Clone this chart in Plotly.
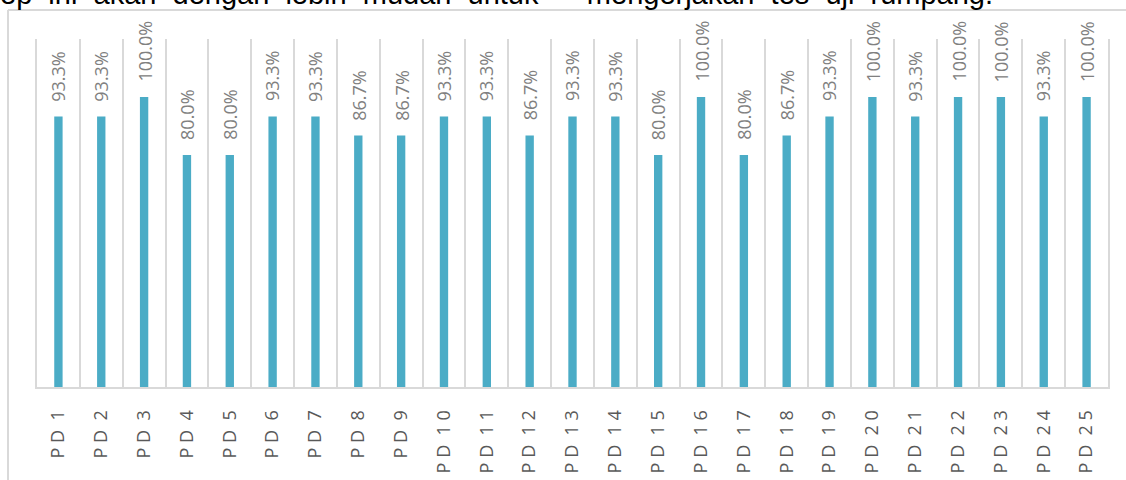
import plotly.graph_objects as go

categories = ["PD 1", "PD 2", "PD 3", "PD 4", "PD 5", "PD 6", "PD 7", "PD 8", "PD 9", "PD 10",
              "PD 11", "PD 12", "PD 13", "PD 14", "PD 15", "PD 16", "PD 17", "PD 18", "PD 19", "PD 20",
              "PD 21", "PD 22", "PD 23", "PD 24", "PD 25"]
scores = [93.3, 93.3, 100.0, 80.0, 80.0, 93.3, 93.3, 86.7, 86.7, 93.3,
          93.3, 86.7, 93.3, 93.3, 80.0, 100.0, 80.0, 86.7, 93.3, 100.0,
          93.3, 100.0, 100.0, 93.3, 100.0]
heading = "ep ini akan dengan lebih mudah untuk   mengerjakan tes uji rumpang."

NB = "\u00a0"
W, H = 1126, 480
L, R, T, B = 37, 18, 39, 93


def spaced(label):
    # Excel-style letter spacing: "PD 12" -> "P D  1 2"
    head, num = label.split(" ")
    return NB.join(head) + NB * 2 + NB.join(num)


tick_text = [spaced(c) for c in categories]

fig = go.Figure(go.Bar(
    x=categories, y=scores,
    marker_color="#4bacc6", marker_line_width=0,
    hoverinfo="x+y",
))

# value labels above each bar, rotated like Excel's
for cat, v in zip(categories, scores):
    fig.add_annotation(x=cat, y=v, text=f"{v:.1f}%", showarrow=False,
                       textangle=-90, yanchor="bottom", yshift=13,
                       font=dict(family="Open Sans", size=18, color="#808080"))

# chart frame (only the top-left corner falls inside the picture)
pw = W - L - R
ph = H - T - B
def px_x(p):
    return (p - L) / pw
def px_y(p):
    return (H - B - p) / ph

fig.add_shape(type="line", xref="paper", yref="paper", layer="above",
              x0=px_x(8), x1=1.0 + R / pw, y0=px_y(10), y1=px_y(10),
              line=dict(color="#d9d9d9", width=2))
fig.add_shape(type="line", xref="paper", yref="paper", layer="above",
              x0=px_x(8), x1=px_x(8), y0=px_y(10), y1=-B / ph,
              line=dict(color="#d9d9d9", width=2))

fig.update_layout(
    width=W, height=H,
    margin=dict(l=L, r=R, t=T, b=B, autoexpand=False),
    paper_bgcolor="white", plot_bgcolor="white",
    bargap=0.805, showlegend=False,
    title=dict(text=heading.replace("   ", NB * 6).replace(" ", NB * 2),
               xref="container", yref="container", x=0, y=1 - 4 / H,
               xanchor="left", yanchor="bottom",
               font=dict(family="Liberation Sans", size=29, color="black")),
)

fig.update_xaxes(type="category", tickvals=categories, ticktext=tick_text,
                 tickangle=-90, tickson="boundaries", ticks="",
                 ticklabelstandoff=14,
                 tickfont=dict(family="Open Sans", size=18, color="#595959"),
                 showgrid=True, gridcolor="#d9d9d9", gridwidth=2,
                 showline=True, linecolor="#d9d9d9", linewidth=2)
fig.update_yaxes(range=[0, 120], showticklabels=False, showgrid=False,
                 zeroline=False, showline=True, mirror=True,
                 linecolor="#d9d9d9", linewidth=2)

fig.write_html("out.html", config={"displayModeBar": False},
               post_script="document.body.style.margin='0';")
